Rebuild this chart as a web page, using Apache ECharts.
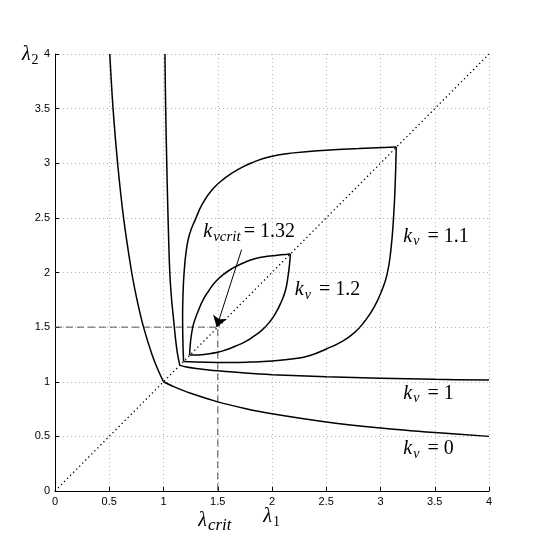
<!DOCTYPE html>
<html><head><meta charset="utf-8">
<script src="https://cdn.jsdelivr.net/npm/echarts@6/dist/echarts.min.js"></script>
<style>html,body{margin:0;padding:0;background:#fff}#c{width:545px;height:546px}</style>
</head><body><div id="c"></div>
<script>
// ---- data ----
const xTicks = [0, 0.5, 1, 1.5, 2, 2.5, 3, 3.5, 4];
const yTicks = [0, 0.5, 1, 1.5, 2, 2.5, 3, 3.5, 4];

// k_v = 0
const kv0RightL1 = [1, 1.1, 1.25, 1.5, 1.75, 2, 2.5, 3, 3.5, 4];
const kv0RightL2 = [1, 0.953, 0.894, 0.816, 0.756, 0.707, 0.632, 0.577, 0.535, 0.5];
const kv0LeftL1  = [1, 0.953, 0.894, 0.816, 0.756, 0.707, 0.632, 0.577, 0.535, 0.505];
const kv0LeftL2  = [1, 1.1, 1.25, 1.5, 1.75, 2, 2.5, 3, 3.5, 4];

// k_v = 1
const kv1RightL1 = [1.15, 1.2, 1.3, 1.4, 1.5, 1.75, 2, 2.5, 3, 3.5, 4];
const kv1RightL2 = [1.15, 1.138, 1.122, 1.11, 1.10, 1.08, 1.065, 1.045, 1.032, 1.022, 1.015];
const kv1LeftL1  = [1.15, 1.13, 1.11, 1.095, 1.075, 1.058, 1.042, 1.03, 1.02, 1.013];
const kv1LeftL2  = [1.15, 1.25, 1.4, 1.55, 1.75, 2, 2.5, 3, 3.5, 4];

// k_v = 1.1 (closed loop; lower branch mirrors the upper one)
const kv11UpperL1 = [1.185, 1.178, 1.176, 1.18, 1.19, 1.21, 1.24, 1.30, 1.36, 1.45, 1.56, 1.68, 1.83, 1.98, 2.2, 2.5, 2.8, 3.145];
const kv11UpperL2 = [1.185, 1.4, 1.6, 1.8, 2.0, 2.2, 2.35, 2.5, 2.63, 2.76, 2.86, 2.94, 3.01, 3.06, 3.095, 3.12, 3.135, 3.148];
const kv11LowerL1 = [1.185, 1.4, 1.6, 1.8, 2.0, 2.2, 2.35, 2.5, 2.63, 2.76, 2.86, 2.94, 3.01, 3.06, 3.095, 3.12, 3.135, 3.145];
const kv11LowerL2 = [1.185, 1.178, 1.176, 1.18, 1.19, 1.21, 1.24, 1.30, 1.36, 1.45, 1.56, 1.68, 1.83, 1.98, 2.2, 2.5, 2.8, 3.148];

// k_v = 1.2 (closed loop)
const kv12UpperL1 = [1.24, 1.245, 1.253, 1.27, 1.29, 1.325, 1.365, 1.415, 1.475, 1.55, 1.63, 1.73, 1.84, 1.98, 2.08, 2.17];
const kv12UpperL2 = [1.245, 1.32, 1.4, 1.5, 1.57, 1.66, 1.75, 1.83, 1.91, 1.98, 2.035, 2.085, 2.125, 2.15, 2.162, 2.17];
const kv12LowerL1 = [1.24, 1.32, 1.4, 1.5, 1.57, 1.66, 1.75, 1.83, 1.91, 1.98, 2.035, 2.085, 2.125, 2.15, 2.162, 2.17];
const kv12LowerL2 = [1.245, 1.245, 1.253, 1.27, 1.29, 1.325, 1.365, 1.415, 1.475, 1.55, 1.63, 1.73, 1.84, 1.98, 2.08, 2.17];

// reference lines
const diagL1 = [0, 4];
const diagL2 = [0, 4];
const critL1 = [0, 1.5, 1.5];
const critL2 = [1.5, 1.5, 0];
const arrowFrom = [1.72, 2.21];
const arrowTo = [1.49, 1.50];

// ---- chart ----
function pairs(a, b) { return a.map((v, i) => [v, b[i]]); }

const chart = echarts.init(document.getElementById('c'), null, {renderer: 'canvas'});

function curve(l1, l2, sm) {
  return {
    type: 'line', data: pairs(l1, l2), showSymbol: false, symbol: 'none',
    smooth: sm, clip: false, silent: true, animation: false, z: 4,
    lineStyle: {color: '#000', width: 1.5}
  };
}

const axisCommon = {
  type: 'value', min: 0, max: 4, interval: 0.5,
  axisLine: {show: true, onZero: false, lineStyle: {color: '#000', width: 1}},
  axisTick: {show: true, inside: true, length: 4, lineStyle: {color: '#000'}},
  splitLine: {show: true, lineStyle: {color: '#b4b4b4', type: [1, 3], width: 1}},
  axisLabel: {color: '#000', fontSize: 11, fontFamily: 'Liberation Sans', margin: 5,
              formatter: v => String(v)}
};

const option = {
  backgroundColor: '#fff',
  animation: false,
  grid: {left: 55, right: 56, top: 54, bottom: 55, containLabel: false},
  xAxis: Object.assign({}, axisCommon),
  yAxis: Object.assign({}, axisCommon),
  series: [
    {type: 'line', data: pairs(diagL1, diagL2), showSymbol: false, symbol: 'none', silent: true,
     lineStyle: {color: '#000', width: 1.3, type: [1.3, 3]}, z: 2},
    {type: 'line', data: pairs(critL1, critL2), showSymbol: false, symbol: 'none', silent: true,
     lineStyle: {color: '#555', width: 1, type: [7, 4]}, z: 2},
    curve(kv0RightL1, kv0RightL2, 0.35),
    curve(kv0LeftL1, kv0LeftL2, 0.35),
    curve(kv1RightL1, kv1RightL2, 0.35),
    curve(kv1LeftL1, kv1LeftL2, 0.35),
    curve(kv11UpperL1, kv11UpperL2, 0.5),
    curve(kv11LowerL1, kv11LowerL2, 0.5),
    curve(kv12UpperL1, kv12UpperL2, 0.5),
    curve(kv12LowerL1, kv12LowerL2, 0.5),
    {type: 'line', data: [], silent: true,
     markLine: {silent: true, animation: false, symbol: ['none', 'arrow'], symbolSize: 11,
       label: {show: false}, lineStyle: {color: '#000', width: 1, type: 'solid'},
       emphasis: {disabled: true},
       data: [[{coord: arrowFrom}, {coord: arrowTo}]]}}
  ]
};
chart.setOption(option);

// ---- text annotations placed through the axes' scales ----
const SERIF = 'Liberation Serif';
const richK = {
  k: {fontFamily: SERIF, fontStyle: 'italic', fontSize: 20, fill: '#000'},
  s: {fontFamily: SERIF, fontStyle: 'italic', fontSize: 14, padding: [10, 0, 0, 1], fill: '#000'},
  s2: {fontFamily: SERIF, fontStyle: 'italic', fontSize: 15, padding: [10, 0, 0, 1], fill: '#000'},
  e: {fontFamily: SERIF, fontSize: 20, padding: [0, 5, 0, 8], fill: '#000'},
  e2: {fontFamily: SERIF, fontSize: 20, padding: [0, 5, 0, 3], fill: '#000'},
  n: {fontFamily: SERIF, fontSize: 20, fill: '#000'},
  l: {fontFamily: SERIF, fontStyle: 'italic', fontSize: 20, fill: '#000'},
  ls: {fontFamily: SERIF, fontStyle: 'italic', fontSize: 17, padding: [10, 0, 0, 1], fill: '#000'},
  lsn: {fontFamily: SERIF, fontSize: 14, padding: [10, 0, 0, 1], fill: '#000'}
};
const labels = [
  {text: '{k|k}{s|v}{e|=}{n|1.1}', at: [3.21, 2.33], align: 'left'},
  {text: '{k|k}{s|v}{e|=}{n|1.2}', at: [2.21, 1.84], align: 'left'},
  {text: '{k|k}{s|v}{e|=}{n|1}', at: [3.21, 0.89], align: 'left'},
  {text: '{k|k}{s|v}{e|=}{n|0}', at: [3.21, 0.385], align: 'left'},
  {text: '{k|k}{s2|vcrit}{e2|=}{n|1.32}', at: [1.367, 2.37], align: 'left'},
  {text: '{l|λ}{ls|crit}', at: [1.32, -0.27], align: 'left'},
  {text: '{l|λ}{lsn|1}', at: [1.92, -0.24], align: 'left'},
  {text: '{l|λ}{lsn|2}', at: [-0.305, 3.99], align: 'left'}
];
const graphics = labels.map(lb => {
  const p = chart.convertToPixel({gridIndex: 0}, lb.at);
  return {type: 'text', x: p[0], y: p[1], silent: true, z: 10,
    style: {text: lb.text, rich: richK, align: lb.align, verticalAlign: 'middle', fill: '#000'}};
});
chart.setOption({graphic: graphics});
</script>
</body></html>
